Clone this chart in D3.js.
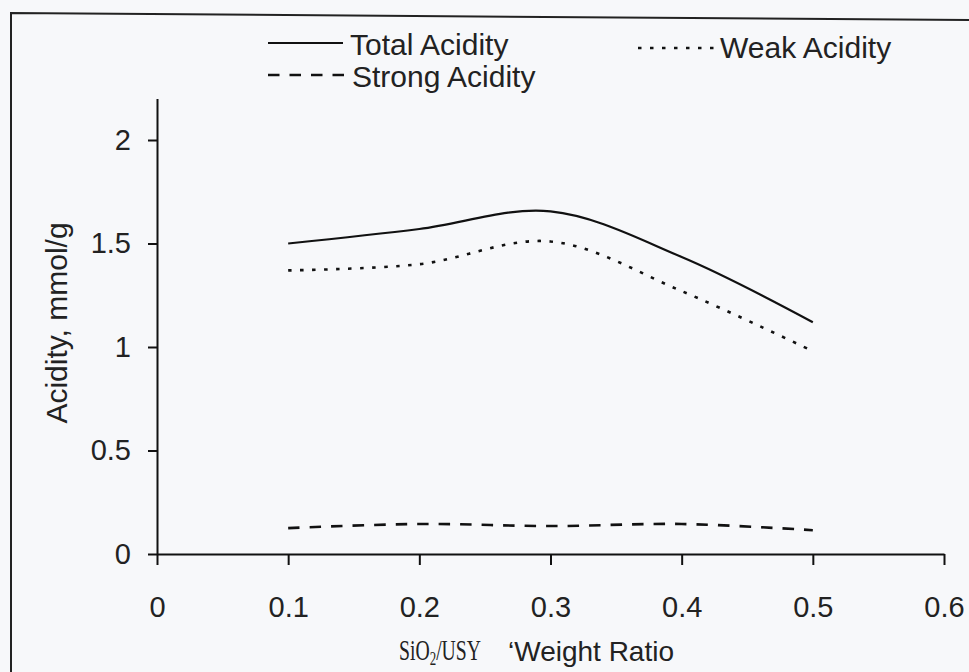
<!DOCTYPE html>
<html>
<head>
<meta charset="utf-8">
<script src="https://cdn.jsdelivr.net/npm/d3@7"></script>
<style>
  body { margin: 0; background: #f7f8fa; }
  svg { display: block; }
</style>
</head>
<body>
<div id="content"></div>
<script>
// Data.
var ratios = [0.1, 0.2, 0.3, 0.4, 0.5];
var totalAcidity = [1.50, 1.57, 1.655, 1.435, 1.12];
var weakAcidity = [1.37, 1.40, 1.51, 1.27, 0.98];
var strongAcidity = [0.125, 0.145, 0.135, 0.145, 0.115];
var xTicks = [0, 0.1, 0.2, 0.3, 0.4, 0.5, 0.6];
var yTicks = [0, 0.5, 1, 1.5, 2];

var width = 969, height = 672;
var svg = d3.select('#content')
              .append('svg')
              .attr('width', width)
              .attr('height', height);

svg.append('rect')
    .attr('width', width)
    .attr('height', height)
    .attr('fill', '#f7f8fa');

// Scanned frame (left and top edges only).
svg.append('path')
    .attr('d', 'M11,672V13L969,20')
    .attr('fill', 'none')
    .attr('stroke', '#222')
    .attr('stroke-width', 2);

// Scales.
var x = d3.scaleLinear().domain([0, 0.6]).range([157, 944]);
var y = d3.scaleLinear().domain([0, 2.2]).range([554, 554 - 2.2 * 207]);

var font = "'Liberation Sans', Arial, sans-serif";

// X axis.
var xAxis = svg.append('g')
    .attr('transform', 'translate(0,' + y(0) + ')')
    .call(d3.axisBottom(x)
            .tickValues(xTicks)
            .tickSize(11)
            .tickSizeOuter(0)
            .tickPadding(31)
            .tickFormat(function(d) { return d === 0 ? '0' : d3.format('.1f')(d); }));

// Y axis.
var yAxis = svg.append('g')
    .attr('transform', 'translate(' + x(0) + ',0)')
    .call(d3.axisLeft(y)
            .tickValues(yTicks)
            .tickSize(9)
            .tickSizeOuter(0)
            .tickPadding(17)
            .tickFormat(function(d) { return String(d); }));

[xAxis, yAxis].forEach(function(a) {
  a.select('.domain').attr('stroke', '#111').attr('stroke-width', 2);
  a.selectAll('.tick line').attr('stroke', '#111').attr('stroke-width', 2);
  a.selectAll('.tick text')
      .attr('fill', '#222')
      .attr('font-family', font)
      .attr('font-size', 29);
});

// Axis titles.
svg.append('text')
    .attr('transform', 'translate(67,323) rotate(-90)')
    .attr('text-anchor', 'middle')
    .attr('font-family', font)
    .attr('font-size', 30)
    .attr('fill', '#222')
    .text('Acidity, mmol/g');

// The serif part of the x title is narrow in the scan.
var sio = svg.append('g')
    .attr('transform', 'translate(399,660) scale(0.68,1)')
    .append('text')
    .attr('font-family', "'Liberation Serif', 'Times New Roman', serif")
    .attr('font-size', 29)
    .attr('fill', '#222');
sio.append('tspan').text('SiO');
sio.append('tspan').attr('font-size', 19).attr('dy', 5).text('2');
sio.append('tspan').attr('dy', -5).text('/USY');

svg.append('text')
    .attr('x', 508)
    .attr('y', 661)
    .attr('font-family', font)
    .attr('font-size', 28)
    .attr('fill', '#222')
    .text('\u2018Weight Ratio');

// Series.
var series = [
  {name : 'Total Acidity', values : totalAcidity, dash : null, width : 2.2},
  {name : 'Weak Acidity', values : weakAcidity, dash : '3.5,8.5', width : 2.6},
  {name : 'Strong Acidity', values : strongAcidity, dash : '11.5,10', width : 2.6}
];

var line = d3.line()
    .x(function(d, i) { return x(ratios[i]); })
    .y(function(d) { return y(d); })
    .curve(d3.curveCatmullRom.alpha(0.5));

svg.selectAll('path.series')
    .data(series)
    .enter()
    .append('path')
    .attr('class', 'series')
    .attr('fill', 'none')
    .attr('stroke', '#111')
    .attr('stroke-width', function(d) { return d.width; })
    .attr('stroke-dasharray', function(d) { return d.dash; })
    .attr('d', function(d) { return line(d.values); });

// Legend.
var legendPos = [
  {x : 268, y : 43, len : 75, tx : 350, ty : 55},
  {x : 638, y : 48, len : 77, tx : 720, ty : 58},
  {x : 268, y : 75, len : 80, tx : 352, ty : 87}
];

var legend = svg.selectAll('g.legend')
    .data(series)
    .enter()
    .append('g')
    .attr('class', 'legend');

legend.append('line')
    .attr('x1', function(d, i) { return legendPos[i].x; })
    .attr('x2', function(d, i) { return legendPos[i].x + legendPos[i].len; })
    .attr('y1', function(d, i) { return legendPos[i].y; })
    .attr('y2', function(d, i) { return legendPos[i].y; })
    .attr('stroke', '#111')
    .attr('stroke-width', function(d) { return d.width; })
    .attr('stroke-dasharray', function(d) { return d.dash; });

legend.append('text')
    .attr('x', function(d, i) { return legendPos[i].tx; })
    .attr('y', function(d, i) { return legendPos[i].ty; })
    .attr('font-family', font)
    .attr('font-size', 30)
    .attr('fill', '#222')
    .text(function(d) { return d.name; });
</script>
</body>
</html>
